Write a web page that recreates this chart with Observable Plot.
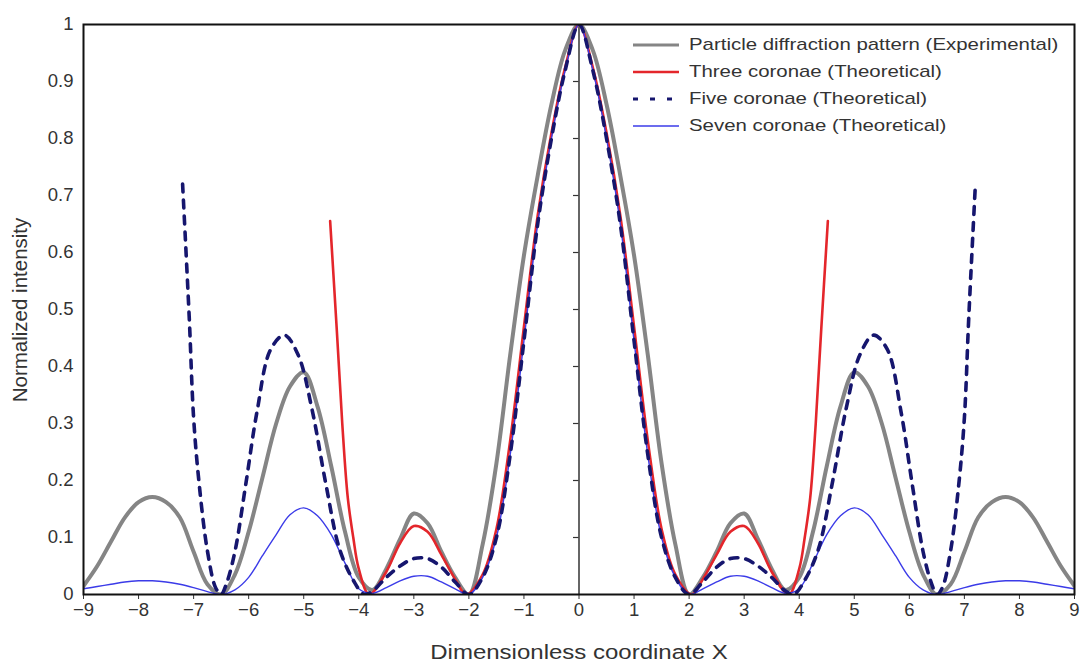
<!DOCTYPE html>
<html>
<head>
<meta charset="utf-8">
<script src="https://cdn.jsdelivr.net/npm/d3@7"></script>
<script src="https://cdn.jsdelivr.net/npm/@observablehq/plot@0.6"></script>
<style>
  html, body { margin: 0; padding: 0; background: #fff; }
  #wrap { position: relative; width: 1080px; height: 664px; font-family: "Liberation Sans", Arial, sans-serif; color: #333; }
  #legend { position: absolute; left: 632px; top: 31px; font-size: 17px; }
  #legend .row { display: flex; align-items: center; height: 27px; white-space: nowrap; }
  #legend svg { margin-right: 9px; flex: none; }
  #legend span { display: inline-block; transform: scaleX(1.2); transform-origin: left center; }
  .axtitle { position: absolute; white-space: nowrap; line-height: 1; }
  #xtitle { left: 579px; top: 652px; font-size: 20px; transform: translate(-50%, -50%) scaleX(1.2); }
  #ytitle { left: 20px; top: 310px; font-size: 20.5px; transform: translate(-50%, -50%) rotate(-90deg); }
</style>
</head>
<body>
<div id="wrap">
  <div id="legend"></div>
  <div class="axtitle" id="xtitle"></div>
  <div class="axtitle" id="ytitle"></div>
</div>
<script>
// ---- Data ----
const xTicks = [-9,-8,-7,-6,-5,-4,-3,-2,-1,0,1,2,3,4,5,6,7,8,9];
const yTicks = [0,0.1,0.2,0.3,0.4,0.5,0.6,0.7,0.8,0.9,1];
const xTitle = "Dimensionless coordinate X";
const yTitle = "Normalized intensity";

const seriesNames = [
  "Particle diffraction pattern (Experimental)",
  "Three coronae (Theoretical)",
  "Five coronae (Theoretical)",
  "Seven coronae (Theoretical)"
];

// Experimental (grey)
const expX = [-9,-8.75,-8.5,-8.25,-8,-7.75,-7.5,-7.25,-7,-6.75,-6.5,-6.25,-6,-5.75,-5.5,-5.25,-5,-4.75,-4.5,-4.25,-4,-3.75,-3.5,-3.25,-3,-2.75,-2.5,-2.25,-2,-1.75,-1.5,-1.25,-1,-0.75,-0.5,-0.25,
  0,0.25,0.5,0.75,1,1.25,1.5,1.75,2,2.25,2.5,2.75,3,3.25,3.5,3.75,4,4.25,4.5,4.75,5,5.25,5.5,5.75,6,6.25,6.5,6.75,7,7.25,7.5,7.75,8,8.25,8.5,8.75,9];
const expY = [0.015,0.05,0.093,0.135,0.162,0.171,0.162,0.135,0.075,0.018,0,0.035,0.11,0.205,0.3,0.365,0.39,0.33,0.225,0.11,0.03,0.008,0.045,0.097,0.142,0.125,0.075,0.03,0,0.088,0.23,0.42,0.595,0.735,0.86,0.955,
  1,0.955,0.86,0.735,0.595,0.42,0.23,0.088,0,0.03,0.075,0.125,0.142,0.097,0.045,0.008,0.03,0.11,0.225,0.33,0.39,0.365,0.3,0.205,0.11,0.035,0,0.018,0.075,0.135,0.162,0.171,0.162,0.135,0.093,0.05,0.015];

// Three coronae (red)
const threeX = [-4.52,-4.4,-4.3,-4.2,-4.1,-4,-3.81,-3.5,-3.25,-3,-2.75,-2.5,-2.25,-2.05,-1.75,-1.5,-1.25,-1,-0.75,-0.5,-0.25,
  0,0.25,0.5,0.75,1,1.25,1.5,1.75,2.05,2.25,2.5,2.75,3,3.25,3.5,3.81,4,4.1,4.2,4.3,4.4,4.52];
const threeY = [0.655,0.465,0.3,0.17,0.1,0.045,0,0.04,0.09,0.12,0.11,0.07,0.027,0,0.035,0.115,0.27,0.47,0.665,0.81,0.925,
  1,0.925,0.81,0.665,0.47,0.27,0.115,0.035,0,0.027,0.07,0.11,0.12,0.09,0.04,0,0.045,0.1,0.17,0.3,0.465,0.655];

// Five coronae (navy, dashed)
const fiveX = [-7.2,-7.08,-7,-6.9,-6.75,-6.6,-6.5,-6.4,-6.25,-6.05,-5.85,-5.6,-5.35,-5.1,-4.85,-4.6,-4.35,-4.1,-3.9,-3.75,-3.5,-3.25,-3,-2.75,-2.5,-2.25,-2,-1.75,-1.5,-1.25,-1,-0.75,-0.5,-0.25,
  0,0.25,0.5,0.75,1,1.25,1.5,1.75,2,2.25,2.5,2.75,3,3.25,3.5,3.75,3.9,4.1,4.35,4.6,4.85,5.1,5.35,5.6,5.85,6.05,6.25,6.4,6.5,6.6,6.75,6.9,7,7.08,7.2];
const fiveY = [0.72,0.487,0.31,0.195,0.077,0.012,0,0.02,0.075,0.195,0.32,0.43,0.455,0.42,0.325,0.195,0.08,0.025,0,0.006,0.03,0.05,0.063,0.063,0.048,0.022,0,0.03,0.1,0.245,0.445,0.65,0.8,0.92,
  1,0.92,0.8,0.65,0.445,0.245,0.1,0.03,0,0.022,0.048,0.063,0.063,0.05,0.03,0.006,0,0.025,0.08,0.195,0.325,0.42,0.455,0.43,0.32,0.195,0.075,0.02,0,0.012,0.077,0.195,0.31,0.487,0.72];

// Seven coronae (blue, thin)
const sevenX = [-9,-8.75,-8.5,-8.25,-8,-7.75,-7.5,-7.25,-7,-6.75,-6.5,-6.25,-6,-5.75,-5.5,-5.25,-5,-4.75,-4.5,-4.25,-4,-3.75,-3.5,-3.25,-3,-2.75,-2.5,-2.25,-2,-1.75,-1.5,-1.25,-1,-0.75,-0.5,-0.25,
  0,0.25,0.5,0.75,1,1.25,1.5,1.75,2,2.25,2.5,2.75,3,3.25,3.5,3.75,4,4.25,4.5,4.75,5,5.25,5.5,5.75,6,6.25,6.5,6.75,7,7.25,7.5,7.75,8,8.25,8.5,8.75,9];
const sevenY = [0.01,0.014,0.018,0.022,0.024,0.024,0.022,0.018,0.012,0.005,0,0.008,0.03,0.068,0.105,0.14,0.152,0.138,0.105,0.055,0.01,0.002,0.012,0.024,0.032,0.032,0.022,0.01,0,0.03,0.1,0.245,0.445,0.65,0.8,0.92,
  1,0.92,0.8,0.65,0.445,0.245,0.1,0.03,0,0.01,0.022,0.032,0.032,0.024,0.012,0.002,0.01,0.055,0.105,0.138,0.152,0.14,0.105,0.068,0.03,0.008,0,0.005,0.012,0.018,0.022,0.024,0.024,0.022,0.018,0.014,0.01];

// ---- Styles ----
const styles = [
  {stroke: "#858585", strokeWidth: 4},
  {stroke: "#e4262b", strokeWidth: 2.6},
  {stroke: "#16166e", strokeWidth: 3.6, strokeDasharray: "8,8"},
  {stroke: "#3b3be8", strokeWidth: 1.4}
];

const fmtX = d => d < 0 ? "\u2212" + (-d) : String(d);
const fmtY = d => d === 0 ? "0" : d === 1 ? "1" : d.toFixed(1);

const chart = Plot.plot({
  width: 1080,
  height: 664,
  marginLeft: 83,
  marginRight: 6,
  marginTop: 24,
  marginBottom: 70,
  style: {fontFamily: "'Liberation Sans', Arial, sans-serif", fontSize: "18.5px", color: "#333", background: "white"},
  x: {domain: [-9, 9]},
  y: {domain: [0, 1]},
  marks: [
    Plot.axisX({ticks: xTicks, tickSize: 5, tickPadding: 3, tickFormat: fmtX, label: null, fontSize: 18.5}),
    Plot.axisY({ticks: yTicks, tickSize: 0, tickPadding: 10, tickFormat: fmtY, label: null, fontSize: 18.5}),
    Plot.ruleX([0], {stroke: "#333", strokeWidth: 1.5}),
    Plot.ruleY(yTicks.slice(1, -1), {x1: -0.1, x2: 0, stroke: "#333", strokeWidth: 1.2}),
    Plot.line(expY, {x: expX, y: expY, curve: "catmull-rom", clip: true, ...styles[0]}),
    Plot.line(threeY, {x: threeX, y: threeY, curve: "catmull-rom", clip: true, ...styles[1]}),
    Plot.line(sevenY, {x: sevenX, y: sevenY, curve: "catmull-rom", clip: true, ...styles[3]}),
    Plot.line(fiveY, {x: fiveX, y: fiveY, curve: "catmull-rom", clip: true, ...styles[2]}),
    Plot.frame({stroke: "#111", strokeWidth: 2})
  ]
});
document.getElementById("wrap").prepend(chart);
document.getElementById("xtitle").textContent = xTitle;
document.getElementById("ytitle").textContent = yTitle;

// Legend (HTML overlay)
const legend = document.getElementById("legend");
seriesNames.forEach((name, i) => {
  const s = styles[i];
  const row = document.createElement("div");
  row.className = "row";
  const dash = i === 2 ? "5,12" : "none";
  row.innerHTML = `<svg width="48" height="10"><line x1="1" y1="5" x2="47" y2="5" stroke="${s.stroke}" stroke-width="${Math.min(s.strokeWidth, 3.2)}" stroke-dasharray="${dash}"/></svg><span>${name}</span>`;
  legend.appendChild(row);
});
</script>
</body>
</html>
